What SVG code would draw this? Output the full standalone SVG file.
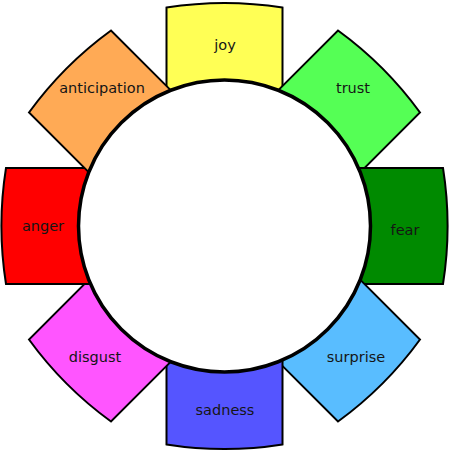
<svg xmlns="http://www.w3.org/2000/svg" width="450" height="454" viewBox="0 0 450 454">
<style>
.petal{stroke:#000;stroke-width:2;stroke-linejoin:miter}
.lbl{font-family:"DejaVu Sans","Verdana",sans-serif;font-size:14.5px;fill:#151515;text-anchor:middle}
.hub{fill:#fff;stroke:#000;stroke-width:3.5}
</style>
<defs>
<path id="petalShape" d="M -58,-120 L -58,-218.5 A 370 370 0 0 1 58,-218.5 L 58,-120 Z"/>
</defs>
<g id="connectors"></g>
<g id="joy"><use href="#petalShape" class="petal" fill="#ffff55" transform="translate(224.5,226) rotate(0)"/></g>
<g id="trust"><use href="#petalShape" class="petal" fill="#55ff55" transform="translate(224.5,226) rotate(45)"/></g>
<g id="fear"><use href="#petalShape" class="petal" fill="#008a00" transform="translate(224.5,226) rotate(90)"/></g>
<g id="surprise"><use href="#petalShape" class="petal" fill="#59bdff" transform="translate(224.5,226) rotate(135)"/></g>
<g id="sadness"><use href="#petalShape" class="petal" fill="#5555ff" transform="translate(224.5,226) rotate(180)"/></g>
<g id="disgust"><use href="#petalShape" class="petal" fill="#ff55ff" transform="translate(224.5,226) rotate(225)"/></g>
<g id="anger"><use href="#petalShape" class="petal" fill="#ff0000" transform="translate(224.5,226) rotate(270)"/></g>
<g id="anticipation"><use href="#petalShape" class="petal" fill="#ffaa55" transform="translate(224.5,226) rotate(315)"/></g>
<g id="center"><circle class="hub" cx="224.5" cy="226" r="146"/></g>
<g id="labels">
<text class="lbl" x="225" y="50">joy</text>
<text class="lbl" x="353" y="93">trust</text>
<text class="lbl" x="405" y="235">fear</text>
<text class="lbl" x="356" y="362">surprise</text>
<text class="lbl" x="225" y="415">sadness</text>
<text class="lbl" x="95" y="362">disgust</text>
<text class="lbl" x="43" y="231">anger</text>
<text class="lbl" x="102" y="93">anticipation</text>
</g>
</svg>
